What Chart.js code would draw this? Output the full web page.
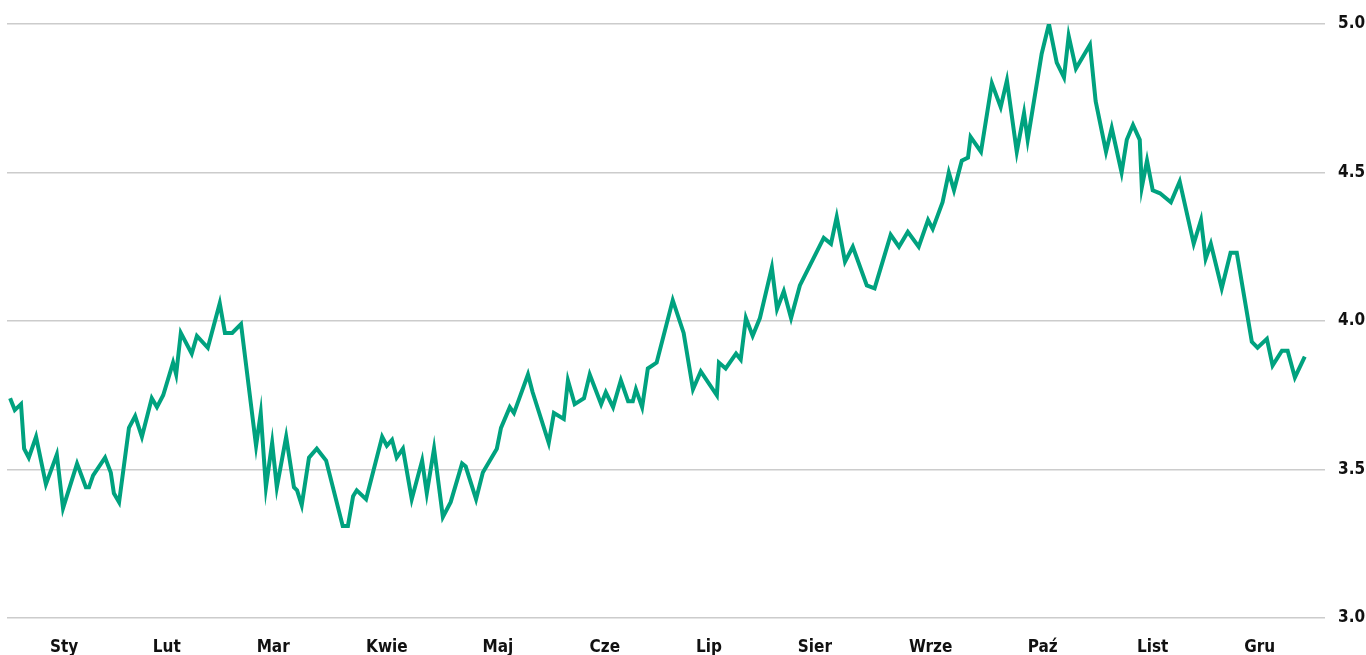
<!DOCTYPE html>
<html lang="pl">
<head>
<meta charset="utf-8">
<title>Wykres</title>
<script src="https://cdn.jsdelivr.net/npm/chart.js@4.4.1/dist/chart.umd.min.js"></script>
<style>
  html, body { margin: 0; padding: 0; background: #ffffff; }
  .chart-box { position: relative; width: 1366px; height: 655px; }
</style>
</head>
<body>
<div class="chart-box"><canvas id="js-line-chart"></canvas></div>
<script>
"use strict";

// sesja (numer dnia notowań)
const sessions = [
  0.6, 1.5, 2.7, 3.3, 4.2, 5.6, 7.5, 9.6, 10.8, 13.5, 15.2, 15.8, 16.6, 18.9, 20.0, 20.6, 21.6, 23.5, 24.7, 26.0,
  27.9, 28.9, 30.1, 32.0, 32.6, 33.5, 35.6, 36.6, 38.7, 41.0, 42.0, 43.4, 45.1, 48.0, 48.9, 49.9, 51.1, 52.0, 53.8, 55.3,
  55.9, 56.8, 58.2, 59.7, 61.5, 64.7, 65.7, 66.7, 67.4, 69.2, 72.3, 73.2, 74.2, 75.1, 76.3, 78.0, 80.0, 80.9, 82.3, 84.0,
  85.5, 87.7, 88.4, 90.4, 91.7, 94.4, 95.2, 96.9, 97.7, 100.4, 101.3, 104.4, 105.4, 107.3, 108.1, 109.4, 111.2, 112.3, 114.5, 115.4,
  116.8, 118.3, 119.7, 120.6, 121.2, 122.4, 123.5, 125.2, 128.3, 130.4, 132.2, 133.7, 136.8, 137.2, 138.5, 140.5, 141.4, 142.4, 143.7, 145.1,
  147.4, 148.4, 149.7, 151.1, 152.8, 157.4, 158.8, 159.9, 161.5, 163.0, 165.7, 167.2, 170.3, 171.9, 173.6, 175.7, 177.5, 178.4, 180.3, 181.5,
  182.5, 184.0, 185.2, 185.7, 187.7, 189.8, 191.5, 192.7, 194.6, 196.0, 196.7, 199.4, 200.8, 202.3, 203.7, 204.6, 206.0, 208.7, 209.8, 211.8,
  212.9, 214.8, 215.8, 217.0, 218.3, 218.7, 219.7, 220.8, 222.2, 224.3, 226.0, 228.7, 230.1, 231.0, 232.0, 234.1, 235.8, 237.0, 239.9, 241.0,
  242.8, 243.9, 245.7, 246.8, 248.2, 250.1
];

// kurs
const rates = [
  3.74, 3.70, 3.72, 3.57, 3.54, 3.61, 3.45, 3.55, 3.37, 3.52, 3.44, 3.44, 3.48, 3.54, 3.49, 3.42, 3.39, 3.64, 3.68, 3.61,
  3.74, 3.71, 3.75, 3.86, 3.82, 3.96, 3.89, 3.95, 3.91, 4.06, 3.96, 3.96, 3.99, 3.58, 3.69, 3.44, 3.59, 3.44, 3.61, 3.44,
  3.43, 3.38, 3.54, 3.57, 3.53, 3.31, 3.31, 3.41, 3.43, 3.40, 3.61, 3.58, 3.60, 3.54, 3.57, 3.40, 3.53, 3.42, 3.57, 3.34,
  3.39, 3.52, 3.51, 3.40, 3.49, 3.57, 3.64, 3.71, 3.69, 3.82, 3.76, 3.59, 3.69, 3.67, 3.80, 3.72, 3.74, 3.82, 3.72, 3.76,
  3.71, 3.80, 3.73, 3.73, 3.77, 3.71, 3.84, 3.86, 4.07, 3.96, 3.77, 3.83, 3.75, 3.86, 3.84, 3.89, 3.87, 4.01, 3.95, 4.01,
  4.18, 4.04, 4.10, 4.01, 4.12, 4.28, 4.26, 4.35, 4.20, 4.25, 4.12, 4.11, 4.29, 4.25, 4.30, 4.25, 4.34, 4.31, 4.40, 4.50,
  4.44, 4.54, 4.55, 4.62, 4.57, 4.80, 4.72, 4.81, 4.57, 4.70, 4.61, 4.90, 5.00, 4.87, 4.82, 4.96, 4.85, 4.93, 4.74, 4.57,
  4.65, 4.50, 4.61, 4.66, 4.61, 4.45, 4.54, 4.44, 4.43, 4.40, 4.47, 4.26, 4.34, 4.21, 4.26, 4.11, 4.23, 4.23, 3.93, 3.91,
  3.94, 3.85, 3.90, 3.90, 3.81, 3.88
];

const months = ["Sty", "Lut", "Mar", "Kwie", "Maj", "Cze", "Lip", "Sier", "Wrze", "Paź", "List", "Gru"];
// środek miesiąca na osi sesji
const monthCenters = [11.0, 30.8, 51.3, 73.2, 94.6, 115.2, 135.3, 155.7, 178.0, 199.6, 220.8, 241.4];

const yMin = 3.0;
const yMax = 5.0;
const yStep = 0.5;

{
  const labelFont = {
    family: "'DejaVu Sans Condensed', 'Roboto Condensed', Roboto, sans-serif",
    size: 17,
    weight: "bold",
  };

  const points = sessions.map((s, i) => {
    return { x: s, y: rates[i] };
  });

  const ctx = document.getElementById("js-line-chart").getContext("2d");
  const lineChart = new Chart(ctx, {
    type: "line",
    data: {
      datasets: [
        {
          data: points,
          borderColor: "#00a27f",
          borderWidth: 4,
          pointRadius: 0,
          tension: 0,
          borderJoinStyle: "miter",
        },
      ],
    },
    options: {
      responsive: true,
      maintainAspectRatio: false,
      animation: false,
      layout: {
        padding: { left: 7, right: 0, top: 24, bottom: 0 },
      },
      scales: {
        x: {
          type: "linear",
          min: 0,
          max: 254,
          grid: { display: false, drawTicks: false },
          border: { display: false },
          afterBuildTicks: (axis) => {
            axis.ticks = monthCenters.map((v) => ({ value: v }));
          },
          afterFit: (axis) => {
            axis.height = 37;
          },
          ticks: {
            autoSkip: false,
            maxRotation: 0,
            minRotation: 0,
            padding: 19,
            color: "#111111",
            font: labelFont,
            callback: function (value) {
              const idx = monthCenters.indexOf(value);
              return idx >= 0 ? months[idx] : "";
            },
          },
        },
        y: {
          position: "right",
          min: yMin,
          max: yMax,
          grid: {
            color: "#cccccc",
            lineWidth: 1.5,
            drawTicks: false,
          },
          border: { display: false },
          afterFit: (axis) => {
            axis.width = 41;
          },
          ticks: {
            stepSize: yStep,
            padding: 13,
            color: "#111111",
            font: labelFont,
            callback: function (value) {
              return value.toFixed(1);
            },
          },
        },
      },
      plugins: {
        legend: { display: false },
        tooltip: { enabled: false },
      },
    },
  });
}
</script>
</body>
</html>
